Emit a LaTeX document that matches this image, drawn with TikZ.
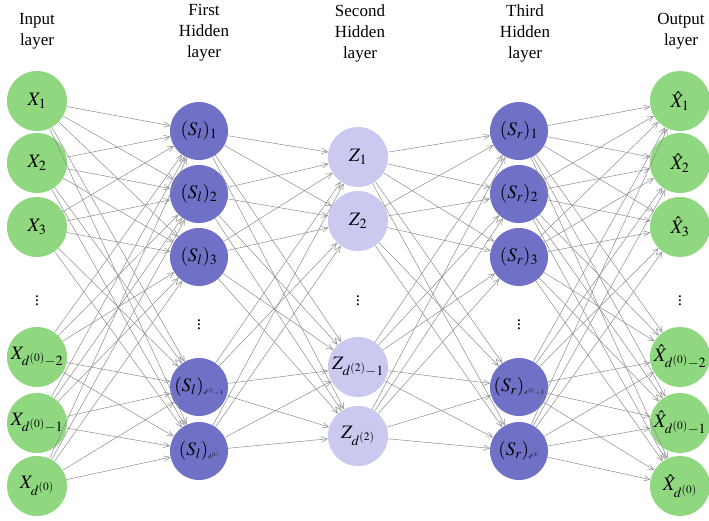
\documentclass[tikz,border=0pt]{standalone}
\usepackage{mathptmx}
\usepackage{fontspec}
\setmainfont{Liberation Serif}
\usetikzlibrary{arrows.meta}
\definecolor{ngreen}{RGB}{144,216,128}
\definecolor{nblue}{RGB}{112,112,198}
\definecolor{nlav}{RGB}{202,202,240}
\definecolor{ngray}{RGB}{140,140,140}
\newcommand{\tinysub}[1]{\mbox{\fontsize{6}{7}\selectfont$#1$}}
\begin{document}
\begin{tikzpicture}[x=1pt,y=-1pt,
  neuron/.style={circle,inner sep=0pt,minimum size=60pt,font=\fontsize{19}{22}\selectfont},
  inl/.style={neuron,fill=ngreen},
  hid/.style={neuron,fill=nblue,minimum size=58pt},
  mid/.style={neuron,fill=nlav,minimum size=60pt},
  conn/.style={draw=ngray,line width=0.5pt,-{Straight Barb[length=6pt,width=5.5pt]}},
  lab/.style={align=center,font=\fontsize{17}{21}\selectfont},
  dotsn/.style={inner sep=0pt,font=\fontsize{17}{20}\selectfont}]
\useasboundingbox (0,0) rectangle (709,520);
% labels
\node[lab] (lin) at (37,31) {Input\\layer};
\node[lab] (lh1) at (204,33) {First\\Hidden\\layer};
\node[lab] (lh2) at (360,33) {Second\\Hidden\\layer};
\node[lab] (lh3) at (525,33) {Third\\Hidden\\layer};
\node[lab] (lout) at (681,31) {Output\\layer};
% input layer
\node[inl] (i1) at (37,101) {$X_1$};
\node[inl] (i2) at (37,163) {$X_2$};
\node[inl] (i3) at (37,227) {$X_3$};
\node[dotsn] (di) at (37,298) {$\vdots$};
\node[inl] (i4) at (37,357) {$X_{d^{(0)}-2}$};
\node[inl] (i5) at (37,423) {$X_{d^{(0)}-1}$};
\node[inl] (i6) at (37,486) {$X_{d^{(0)}}$};
% first hidden
\node[hid] (a1) at (199,131) {$(S_l)_1$};
\node[hid] (a2) at (199,194) {$(S_l)_2$};
\node[hid] (a3) at (199,257) {$(S_l)_3$};
\node[dotsn] (da) at (199,322) {$\vdots$};
\node[hid] (a4) at (199,387) {$(S_l)_{\tinysub{d^{(1)}-1}}$};
\node[hid] (a5) at (199,451) {$(S_l)_{\tinysub{d^{(1)}}}$};
% second hidden
\node[mid] (z1) at (358,157) {$Z_1$};
\node[mid] (z2) at (358,221) {$Z_2$};
\node[dotsn] (dz) at (358,298) {$\vdots$};
\node[mid] (z3) at (358,367) {$Z_{d^{(2)}-1}$};
\node[mid] (z4) at (358,436) {$Z_{d^{(2)}}$};
% third hidden
\node[hid] (b1) at (519,131) {$(S_r)_1$};
\node[hid] (b2) at (519,194) {$(S_r)_2$};
\node[hid] (b3) at (519,257) {$(S_r)_3$};
\node[dotsn] (db) at (519,322) {$\vdots$};
\node[hid] (b4) at (519,387) {$(S_r)_{\tinysub{d^{(3)}-1}}$};
\node[hid] (b5) at (519,451) {$(S_r)_{\tinysub{d^{(3)}}}$};
% output
\node[inl] (o1) at (680,101) {$\hat{X}_1$};
\node[inl] (o2) at (680,163) {$\hat{X}_2$};
\node[inl] (o3) at (680,227) {$\hat{X}_3$};
\node[dotsn] (do) at (680,298) {$\vdots$};
\node[inl] (o4) at (680,357) {$\hat{X}_{d^{(0)}-2}$};
\node[inl] (o5) at (680,423) {$\hat{X}_{d^{(0)}-1}$};
\node[inl] (o6) at (680,486) {$\hat{X}_{d^{(0)}}$};
% connections
\foreach \s in {i1,i2,i3,i4,i5,i6}
  \foreach \t in {a1,a2,a3,a4,a5}
    \draw[conn] (\s) -- (\t);
\foreach \s in {a1,a2,a3,a4,a5}
  \foreach \t in {z1,z2,z3,z4}
    \draw[conn] (\s) -- (\t);
\foreach \s in {z1,z2,z3,z4}
  \foreach \t in {b1,b2,b3,b4,b5}
    \draw[conn] (\s) -- (\t);
\foreach \s in {b1,b2,b3,b4,b5}
  \foreach \t in {o1,o2,o3,o4,o5,o6}
    \draw[conn] (\s) -- (\t);
\end{tikzpicture}
\end{document}
